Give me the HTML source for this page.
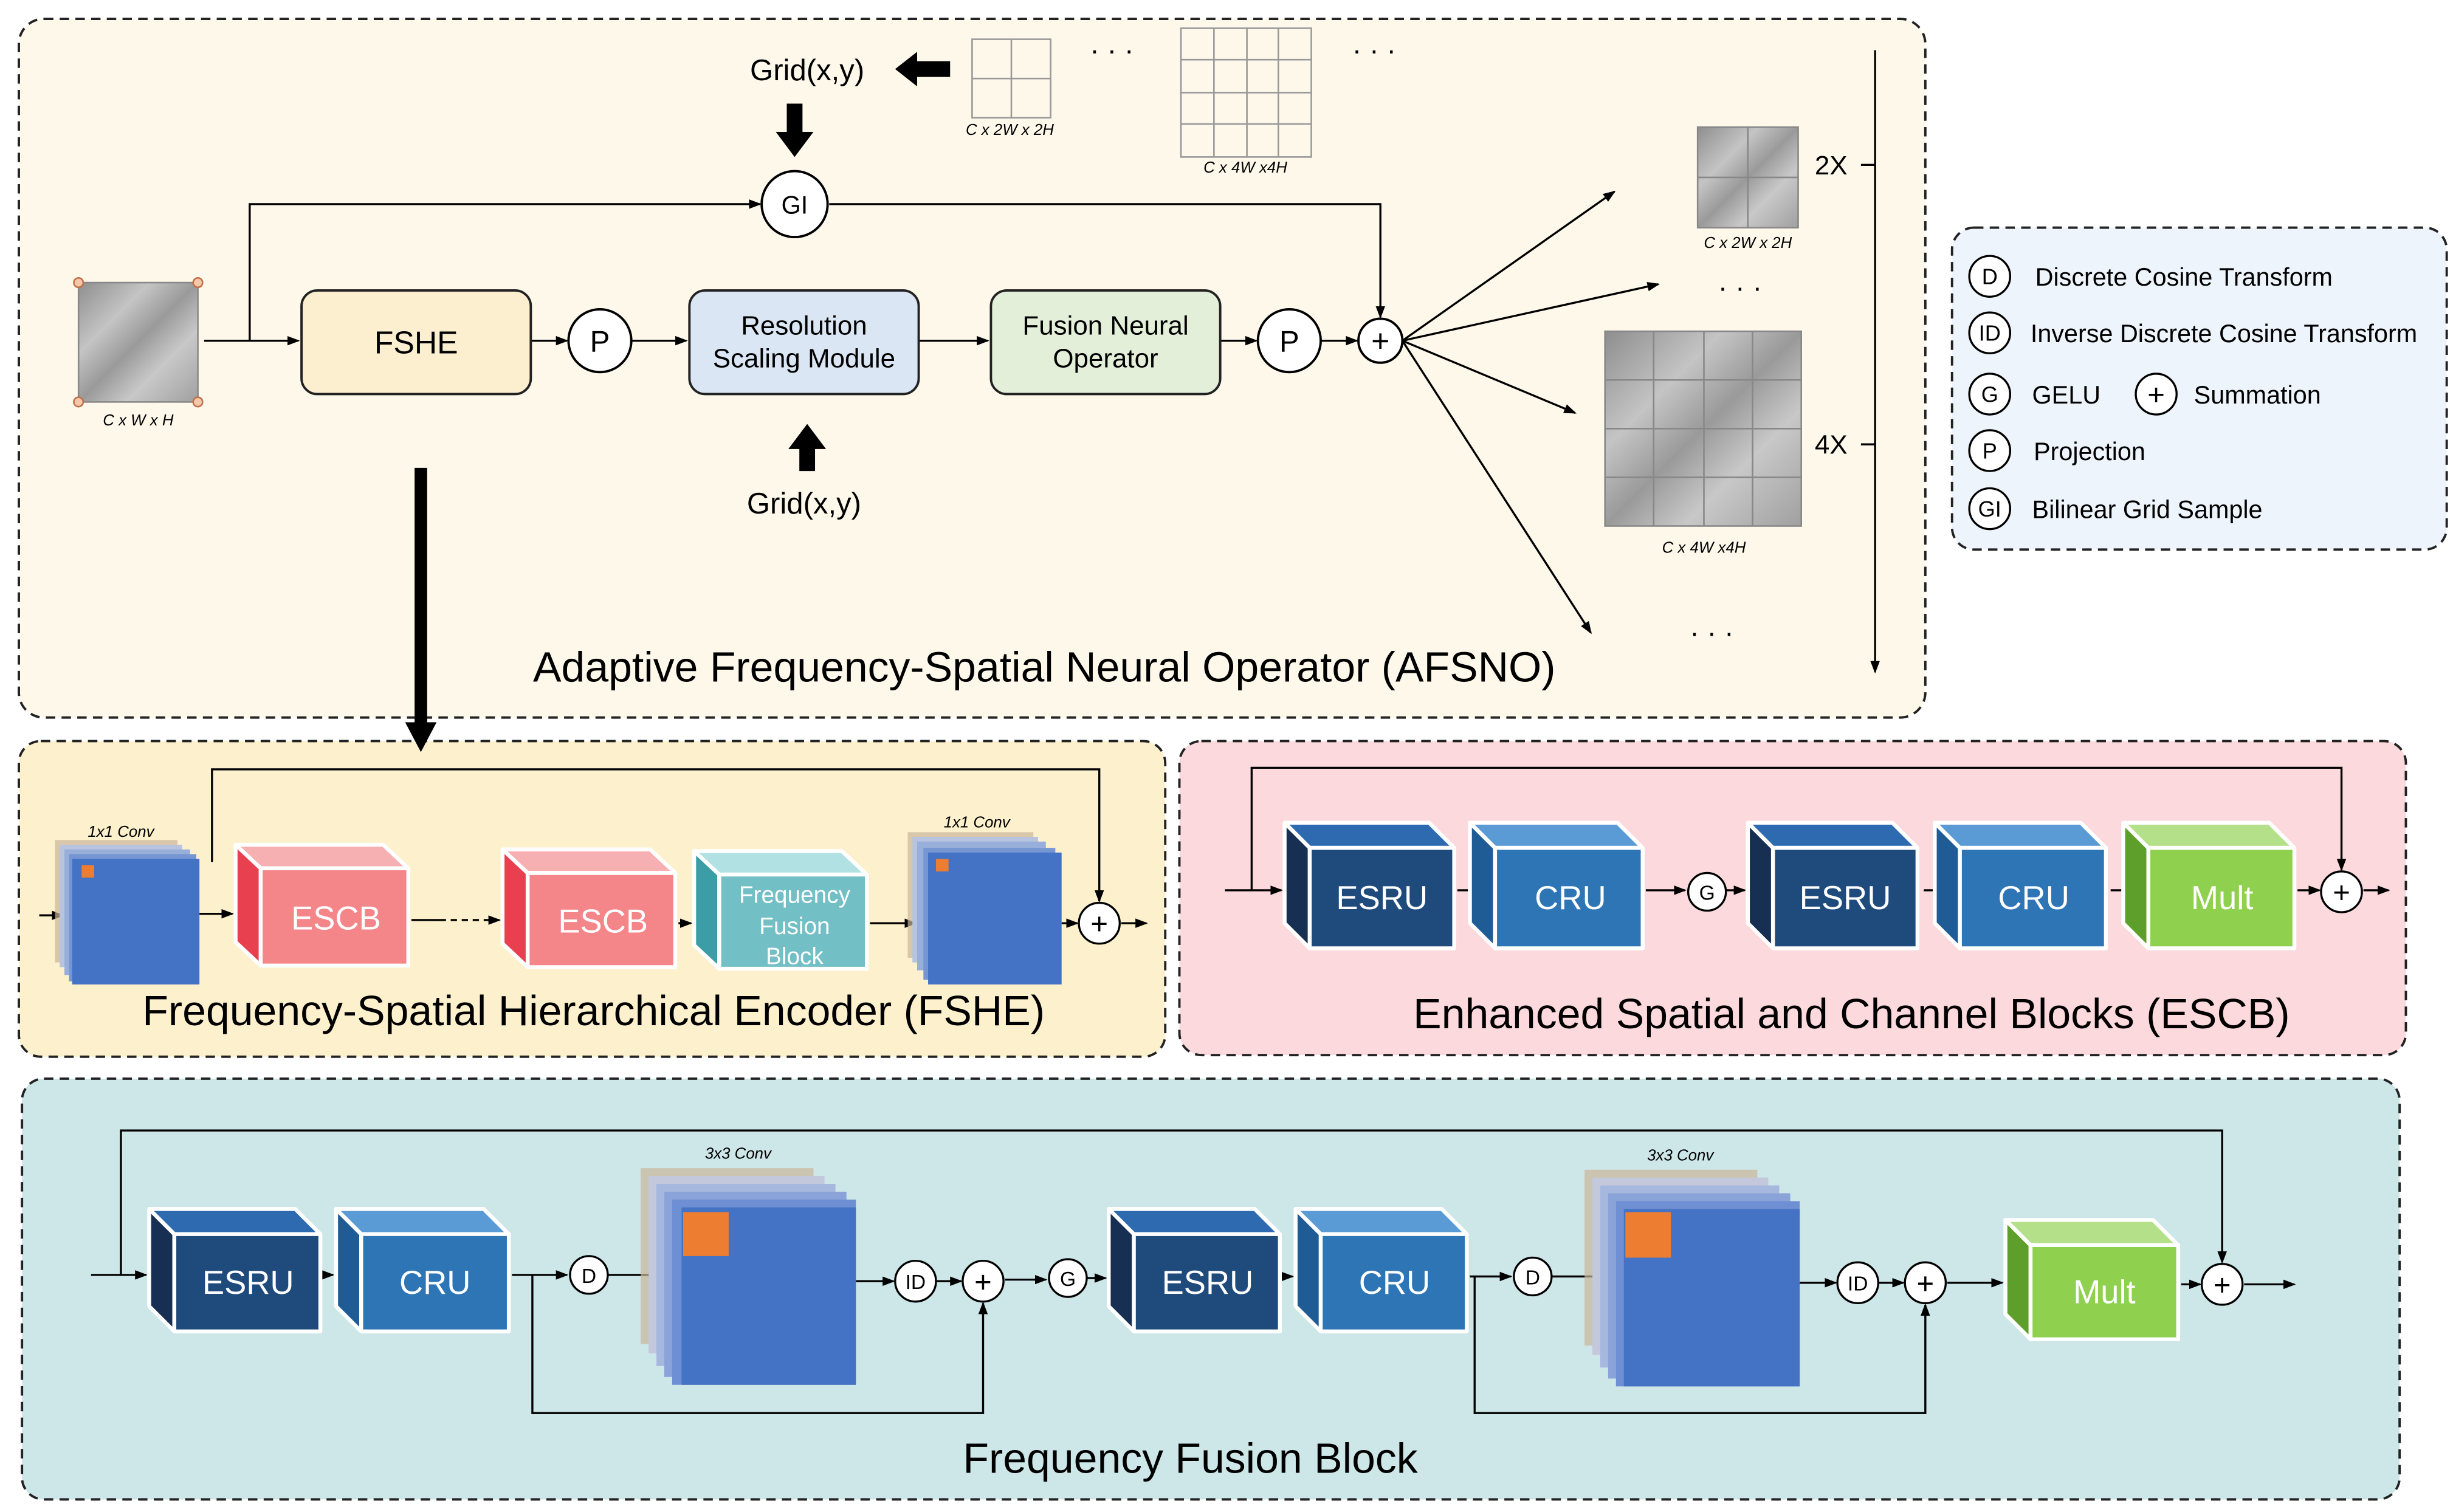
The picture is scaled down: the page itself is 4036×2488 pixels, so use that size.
<!DOCTYPE html>
<html><head><meta charset="utf-8"><style>
html,body{margin:0;padding:0;background:#fff}
svg{display:block}
text{font-family:"Liberation Sans",sans-serif}
</style></head><body>
<svg width="4036" height="2488" viewBox="0 0 1562 963" preserveAspectRatio="none" xmlns="http://www.w3.org/2000/svg">
<defs>
<marker id="a" markerWidth="8" markerHeight="8" refX="7" refY="4" orient="auto" markerUnits="userSpaceOnUse"><path d="M0,1 L8,4 L0,7 z" fill="#000"/></marker>
<linearGradient id="tex" x1="0" y1="0" x2="1" y2="1">
<stop offset="0" stop-color="#8e8e8e"/><stop offset="0.3" stop-color="#c4c4c4"/><stop offset="0.5" stop-color="#9a9a9a"/><stop offset="0.7" stop-color="#c8c8c8"/><stop offset="1" stop-color="#a0a0a0"/>
</linearGradient>
</defs>

<rect x="12" y="12" width="1214" height="445" rx="16" fill="#fdf8ea" stroke="#222" stroke-width="1.5" stroke-dasharray="6,4"/>
<rect x="1243" y="145" width="315" height="205" rx="14" fill="#eef4fb" stroke="#222" stroke-width="1.5" stroke-dasharray="6,4"/>
<rect x="12" y="472" width="730" height="201" rx="14" fill="#fdf0cc" stroke="#222" stroke-width="1.5" stroke-dasharray="6,4"/>
<rect x="751" y="472" width="781" height="200" rx="14" fill="#fcd9dc" stroke="#222" stroke-width="1.5" stroke-dasharray="6,4"/>
<rect x="14" y="687" width="1514" height="268" rx="14" fill="#cde6e8" stroke="#222" stroke-width="1.5" stroke-dasharray="6,4"/>

<rect x="50" y="180" width="76" height="76" fill="url(#tex)" stroke="#888"/>
<g fill="#f4c8a8" stroke="#c0704a" stroke-width="1"><circle cx="50" cy="180" r="3"/><circle cx="126" cy="180" r="3"/><circle cx="50" cy="256" r="3"/><circle cx="126" cy="256" r="3"/></g>
<text x="88" y="271" font-size="10" font-style="italic" text-anchor="middle">C x W x H</text>

<g stroke="#000" stroke-width="1.3" fill="none">
<line x1="130" y1="217" x2="190" y2="217" marker-end="url(#a)"/>
<polyline points="159,217 159,130 484,130" marker-end="url(#a)"/>
<polyline points="528,130 879,130 879,202" marker-end="url(#a)"/>
<line x1="338" y1="217" x2="361" y2="217" marker-end="url(#a)"/>
<line x1="402" y1="217" x2="437" y2="217" marker-end="url(#a)"/>
<line x1="585" y1="217" x2="629" y2="217" marker-end="url(#a)"/>
<line x1="777" y1="217" x2="800" y2="217" marker-end="url(#a)"/>
<line x1="841" y1="217" x2="864" y2="217" marker-end="url(#a)"/>
<line x1="893" y1="217" x2="1028" y2="122" marker-end="url(#a)"/>
<line x1="893" y1="217" x2="1056" y2="181" marker-end="url(#a)"/>
<line x1="893" y1="217" x2="1003" y2="263" marker-end="url(#a)"/>
<line x1="893" y1="217" x2="1013" y2="403" marker-end="url(#a)"/>
<line x1="1194" y1="32" x2="1194" y2="428" marker-end="url(#a)"/>
<line x1="1185" y1="105" x2="1194" y2="105"/>
<line x1="1185" y1="283" x2="1194" y2="283"/>
</g>
<rect x="192" y="185" width="146" height="66" rx="10" fill="#fcefd0" stroke="#222" stroke-width="1.5"/>
<text x="265" y="225" font-size="20" text-anchor="middle">FSHE</text>
<rect x="439" y="185" width="146" height="66" rx="10" fill="#dae6f3" stroke="#222" stroke-width="1.5"/>
<text x="512" y="213" font-size="17" text-anchor="middle">Resolution</text>
<text x="512" y="234" font-size="17" text-anchor="middle">Scaling Module</text>
<rect x="631" y="185" width="146" height="66" rx="10" fill="#e3efd9" stroke="#222" stroke-width="1.5"/>
<text x="704" y="213" font-size="17" text-anchor="middle">Fusion Neural</text>
<text x="704" y="234" font-size="17" text-anchor="middle">Operator</text>
<g fill="#fff" stroke="#000" stroke-width="1.5">
<circle cx="382" cy="217" r="20"/><circle cx="821" cy="217" r="20"/><circle cx="506" cy="130" r="21"/><circle cx="879" cy="217" r="14"/>
</g>
<text x="382" y="224" font-size="19" text-anchor="middle">P</text>
<text x="821" y="224" font-size="19" text-anchor="middle">P</text>
<text x="506" y="136" font-size="16" text-anchor="middle">GI</text>
<text x="879" y="224" font-size="20" text-anchor="middle">+</text>

<text x="514" y="51" font-size="19" text-anchor="middle">Grid(x,y)</text>
<path d="M570,44 L584,33 L584,39 L605,39 L605,49 L584,49 L584,55 z" fill="#000"/>
<path d="M501,66 L511,66 L511,84 L518,84 L506,100 L494,84 L501,84 z" fill="#000"/>
<path d="M514,270 L526,286 L519,286 L519,300 L509,300 L509,286 L502,286 z" fill="#000"/>
<text x="512" y="327" font-size="19" text-anchor="middle">Grid(x,y)</text>
<path d="M264,298 L272,298 L272,460 L278,460 L268,479 L258,460 L264,460 z" fill="#000"/>

<g stroke="#999" stroke-width="1" fill="none">
<rect x="619" y="25" width="50" height="50"/><line x1="644" y1="25" x2="644" y2="75"/><line x1="619" y1="50" x2="669" y2="50"/>
<rect x="752" y="18" width="83" height="82"/>
<line x1="773" y1="18" x2="773" y2="100"/><line x1="794" y1="18" x2="794" y2="100"/><line x1="814" y1="18" x2="814" y2="100"/>
<line x1="752" y1="38" x2="835" y2="38"/><line x1="752" y1="59" x2="835" y2="59"/><line x1="752" y1="79" x2="835" y2="79"/>
</g>
<text x="643" y="86" font-size="10" font-style="italic" text-anchor="middle">C x 2W x 2H</text>
<text x="793" y="110" font-size="10" font-style="italic" text-anchor="middle">C x 4W x4H</text>
<text x="708" y="38" font-size="18" text-anchor="middle">· · ·</text>
<text x="875" y="38" font-size="18" text-anchor="middle">· · ·</text>

<rect x="1081" y="81" width="64" height="64" fill="url(#tex)" stroke="#888"/>
<g stroke="#888" fill="none"><line x1="1113" y1="81" x2="1113" y2="145"/><line x1="1081" y1="113" x2="1145" y2="113"/></g>
<text x="1113" y="158" font-size="10" font-style="italic" text-anchor="middle">C x 2W x 2H</text>
<text x="1108" y="189" font-size="18" text-anchor="middle">· · ·</text>
<rect x="1022" y="211" width="125" height="124" fill="url(#tex)" stroke="#888"/>
<g stroke="#888" fill="none"><line x1="1053" y1="211" x2="1053" y2="335"/><line x1="1085" y1="211" x2="1085" y2="335"/><line x1="1116" y1="211" x2="1116" y2="335"/><line x1="1022" y1="242" x2="1147" y2="242"/><line x1="1022" y1="273" x2="1147" y2="273"/><line x1="1022" y1="304" x2="1147" y2="304"/></g>
<text x="1085" y="352" font-size="10" font-style="italic" text-anchor="middle">C x 4W x4H</text>
<text x="1090" y="409" font-size="18" text-anchor="middle">· · ·</text>
<text x="1166" y="111" font-size="17" text-anchor="middle">2X</text>
<text x="1166" y="289" font-size="17" text-anchor="middle">4X</text>
<text x="665" y="434" font-size="27" text-anchor="middle">Adaptive Frequency-Spatial Neural Operator (AFSNO)</text>

<g fill="#fff" stroke="#000" stroke-width="1.3">
<circle cx="1267" cy="176" r="13"/><circle cx="1267" cy="212" r="13"/><circle cx="1267" cy="251" r="13"/><circle cx="1373" cy="251" r="13"/><circle cx="1267" cy="287" r="13"/><circle cx="1267" cy="324" r="13"/>
</g>
<g font-size="14" text-anchor="middle">
<text x="1267" y="181">D</text><text x="1267" y="217">ID</text><text x="1267" y="256">G</text><text x="1373" y="258" font-size="19">+</text><text x="1267" y="292">P</text><text x="1267" y="329">GI</text>
</g>
<g font-size="16">
<text x="1296" y="182">Discrete Cosine Transform</text>
<text x="1293" y="218">Inverse Discrete Cosine Transform</text>
<text x="1294" y="257">GELU</text>
<text x="1397" y="257">Summation</text>
<text x="1295" y="293">Projection</text>
<text x="1294" y="330">Bilinear Grid Sample</text>
</g>

<g stroke="#000" stroke-width="1.3" fill="none">
<polyline points="135,549 135,490 700,490 700,574" marker-end="url(#a)"/>
<line x1="25" y1="583" x2="40" y2="583" marker-end="url(#a)"/>
<line x1="127" y1="582" x2="148" y2="582" marker-end="url(#a)"/>
<line x1="262" y1="586" x2="280" y2="586"/>
<line x1="280" y1="586" x2="318" y2="586" stroke-dasharray="4,3" marker-end="url(#a)"/>
<line x1="432" y1="588" x2="440" y2="588" marker-end="url(#a)"/>
<line x1="554" y1="588" x2="583" y2="588" marker-end="url(#a)"/>
<line x1="676" y1="588" x2="686" y2="588" marker-end="url(#a)"/>
<line x1="714" y1="588" x2="730" y2="588" marker-end="url(#a)"/>
</g>
<g stroke="none">
<rect x="35" y="535" width="78" height="78" fill="#c9b59a" opacity=".7"/>
<rect x="38" y="538" width="78" height="78" fill="#b7c3df"/>
<rect x="41" y="541" width="80" height="80" fill="#98afd9"/>
<rect x="44" y="544" width="81" height="81" fill="#7596d2"/>
<rect x="46" y="547" width="81" height="80" fill="#4472c4"/>
<rect x="52" y="551" width="8" height="8" fill="#ed7d31"/>
</g>
<text x="77" y="533" font-size="10" font-style="italic" text-anchor="middle">1x1 Conv</text>
<g stroke="none">
<rect x="578" y="530" width="80" height="80" fill="#c9b59a" opacity=".7"/>
<rect x="581" y="533" width="80" height="80" fill="#b7c3df"/>
<rect x="584" y="536" width="82" height="82" fill="#98afd9"/>
<rect x="588" y="540" width="84" height="84" fill="#7596d2"/>
<rect x="591" y="543" width="85" height="84" fill="#4472c4"/>
<rect x="596" y="547" width="8" height="8" fill="#ed7d31"/>
</g>
<text x="622" y="527" font-size="10" font-style="italic" text-anchor="middle">1x1 Conv</text>
<circle cx="700" cy="588" r="13" fill="#fff" stroke="#000" stroke-width="1.3"/>
<text x="700" y="595" font-size="19" text-anchor="middle">+</text>

<g stroke="#fff" stroke-width="2.5" stroke-linejoin="round">
<polygon points="150,538 166,553 166,615 150,600" fill="#e8404f"/>
<polygon points="150,538 244,538 260,553 166,553" fill="#f7b0b2"/>
<rect x="166" y="553" width="94" height="62" fill="#f4868a"/>
<polygon points="320,541 336,556 336,616 320,601" fill="#e8404f"/>
<polygon points="320,541 414,541 430,556 336,556" fill="#f7b0b2"/>
<rect x="336" y="556" width="94" height="60" fill="#f4868a"/>
<polygon points="442,542 458,557 458,617 442,602" fill="#3b9ea6"/>
<polygon points="442,542 536,542 552,557 458,557" fill="#b2e1e4"/>
<rect x="458" y="557" width="94" height="60" fill="#72bfc5"/>
</g>
<g fill="#fff" text-anchor="middle">
<text x="214" y="592" font-size="21">ESCB</text>
<text x="384" y="594" font-size="21">ESCB</text>
<text x="506" y="575" font-size="15">Frequency</text>
<text x="506" y="595" font-size="15">Fusion</text>
<text x="506" y="614" font-size="15">Block</text>
</g>
<text x="378" y="653" font-size="27" text-anchor="middle">Frequency-Spatial Hierarchical Encoder (FSHE)</text>

<g stroke="#000" stroke-width="1.3" fill="none">
<line x1="780" y1="567" x2="816" y2="567" marker-end="url(#a)"/>
<polyline points="797,567 797,489 1491,489 1491,554" marker-end="url(#a)"/>
<line x1="928" y1="567" x2="950" y2="567" marker-end="url(#a)"/>
<line x1="1048" y1="567" x2="1073" y2="567" marker-end="url(#a)"/>
<line x1="1099" y1="567" x2="1111" y2="567" marker-end="url(#a)"/>
<line x1="1225" y1="567" x2="1248" y2="567" marker-end="url(#a)"/>
<line x1="1344" y1="567" x2="1368" y2="567" marker-end="url(#a)"/>
<line x1="1463" y1="567" x2="1477" y2="567" marker-end="url(#a)"/>
<line x1="1505" y1="567" x2="1521" y2="567" marker-end="url(#a)"/>
</g>
<g stroke="#fff" stroke-width="2.5" stroke-linejoin="round">
<polygon points="818,524 834,540 834,604 818,588" fill="#162f52"/>
<polygon points="818,524 910,524 926,540 834,540" fill="#2e6ab0"/>
<rect x="834" y="540" width="92" height="64" fill="#1f4a7c"/>
<polygon points="936,524 952,540 952,604 936,588" fill="#1f5b94"/>
<polygon points="936,524 1030,524 1046,540 952,540" fill="#5b9bd5"/>
<rect x="952" y="540" width="94" height="64" fill="#2e75b6"/>
<polygon points="1113,524 1129,540 1129,604 1113,588" fill="#162f52"/>
<polygon points="1113,524 1205,524 1221,540 1129,540" fill="#2e6ab0"/>
<rect x="1129" y="540" width="92" height="64" fill="#1f4a7c"/>
<polygon points="1232,524 1248,540 1248,604 1232,588" fill="#1f5b94"/>
<polygon points="1232,524 1325,524 1341,540 1248,540" fill="#5b9bd5"/>
<rect x="1248" y="540" width="93" height="64" fill="#2e75b6"/>
<polygon points="1352,524 1368,540 1368,604 1352,588" fill="#5e9e2a"/>
<polygon points="1352,524 1445,524 1461,540 1368,540" fill="#b4e08a"/>
<rect x="1368" y="540" width="93" height="64" fill="#8fd14f"/>
</g>
<g fill="#fff" font-size="21" text-anchor="middle">
<text x="880" y="579">ESRU</text><text x="1000" y="579">CRU</text><text x="1175" y="579">ESRU</text><text x="1295" y="579">CRU</text><text x="1415" y="579">Mult</text>
</g>
<g fill="#fff" stroke="#000" stroke-width="1.3"><circle cx="1087" cy="568" r="12"/><circle cx="1491" cy="568" r="13"/></g>
<text x="1087" y="573" font-size="13" text-anchor="middle">G</text>
<text x="1491" y="575" font-size="19" text-anchor="middle">+</text>
<text x="1179" y="655" font-size="27" text-anchor="middle">Enhanced Spatial and Channel Blocks (ESCB)</text>

<g stroke="#000" stroke-width="1.3" fill="none">
<line x1="58" y1="812" x2="93" y2="812" marker-end="url(#a)"/>
<polyline points="77,812 77,720 1415,720 1415,804" marker-end="url(#a)"/>
<line x1="206" y1="812" x2="212" y2="812" marker-end="url(#a)"/>
<line x1="326" y1="812" x2="361" y2="812" marker-end="url(#a)"/>
<polyline points="339,812 339,900 626,900 626,830" marker-end="url(#a)"/>
<line x1="387" y1="812" x2="420" y2="812" marker-end="url(#a)"/>
<line x1="545" y1="816" x2="569" y2="816" marker-end="url(#a)"/>
<line x1="596" y1="816" x2="612" y2="816" marker-end="url(#a)"/>
<line x1="640" y1="815" x2="666" y2="815" marker-end="url(#a)"/>
<line x1="692" y1="814" x2="704" y2="814" marker-end="url(#a)"/>
<line x1="817" y1="813" x2="823" y2="813" marker-end="url(#a)"/>
<line x1="936" y1="813" x2="962" y2="813" marker-end="url(#a)"/>
<polyline points="939,813 939,900 1226,900 1226,831" marker-end="url(#a)"/>
<line x1="988" y1="813" x2="1021" y2="813" marker-end="url(#a)"/>
<line x1="1146" y1="817" x2="1169" y2="817" marker-end="url(#a)"/>
<line x1="1196" y1="817" x2="1212" y2="817" marker-end="url(#a)"/>
<line x1="1240" y1="817" x2="1275" y2="817" marker-end="url(#a)"/>
<line x1="1389" y1="818" x2="1401" y2="818" marker-end="url(#a)"/>
<line x1="1429" y1="818" x2="1461" y2="818" marker-end="url(#a)"/>
</g>
<g stroke="#fff" stroke-width="2.5" stroke-linejoin="round">
<polygon points="95,770 111,786 111,848 95,832" fill="#162f52"/>
<polygon points="95,770 188,770 204,786 111,786" fill="#2e6ab0"/>
<rect x="111" y="786" width="93" height="62" fill="#1f4a7c"/>
<polygon points="214,770 230,786 230,848 214,832" fill="#1f5b94"/>
<polygon points="214,770 308,770 324,786 230,786" fill="#5b9bd5"/>
<rect x="230" y="786" width="94" height="62" fill="#2e75b6"/>
<polygon points="706,770 722,786 722,848 706,832" fill="#162f52"/>
<polygon points="706,770 799,770 815,786 722,786" fill="#2e6ab0"/>
<rect x="722" y="786" width="93" height="62" fill="#1f4a7c"/>
<polygon points="825,770 841,786 841,848 825,832" fill="#1f5b94"/>
<polygon points="825,770 918,770 934,786 841,786" fill="#5b9bd5"/>
<rect x="841" y="786" width="93" height="62" fill="#2e75b6"/>
<polygon points="1277,777 1293,793 1293,853 1277,837" fill="#5e9e2a"/>
<polygon points="1277,777 1371,777 1387,793 1293,793" fill="#b4e08a"/>
<rect x="1293" y="793" width="94" height="60" fill="#8fd14f"/>
</g>
<g fill="#fff" font-size="21" text-anchor="middle">
<text x="158" y="824">ESRU</text><text x="277" y="824">CRU</text><text x="769" y="824">ESRU</text><text x="888" y="824">CRU</text><text x="1340" y="830">Mult</text>
</g>
<g stroke="none">
<rect x="408" y="744" width="110" height="112" fill="#c9b59a" opacity=".7"/>
<rect x="413" y="749" width="112" height="113" fill="#c3c8dd"/>
<rect x="418" y="754" width="114" height="116" fill="#a7b8de"/>
<rect x="423" y="759" width="116" height="118" fill="#8aa4d9"/>
<rect x="428" y="764" width="117" height="118" fill="#6e8fd3"/>
<rect x="434" y="769" width="111" height="113" fill="#4472c4"/>
<rect x="435" y="772" width="29" height="28" fill="#ed7d31"/>
<rect x="1009" y="745" width="110" height="112" fill="#c9b59a" opacity=".7"/>
<rect x="1014" y="750" width="112" height="113" fill="#c3c8dd"/>
<rect x="1019" y="755" width="114" height="116" fill="#a7b8de"/>
<rect x="1024" y="760" width="116" height="118" fill="#8aa4d9"/>
<rect x="1029" y="765" width="117" height="118" fill="#6e8fd3"/>
<rect x="1034" y="770" width="112" height="113" fill="#4472c4"/>
<rect x="1035" y="772" width="29" height="29" fill="#ed7d31"/>
</g>
<text x="470" y="738" font-size="10" font-style="italic" text-anchor="middle">3x3 Conv</text>
<text x="1070" y="739" font-size="10" font-style="italic" text-anchor="middle">3x3 Conv</text>
<g fill="#fff" stroke="#000" stroke-width="1.3">
<circle cx="375" cy="812" r="12"/><circle cx="583" cy="816" r="13"/><circle cx="626" cy="816" r="13"/><circle cx="680" cy="814" r="12"/>
<circle cx="976" cy="813" r="12"/><circle cx="1183" cy="817" r="13"/><circle cx="1226" cy="817" r="13"/><circle cx="1415" cy="818" r="13"/>
</g>
<g font-size="13" text-anchor="middle">
<text x="375" y="817">D</text><text x="583" y="821">ID</text><text x="680" y="819">G</text><text x="976" y="818">D</text><text x="1183" y="822">ID</text>
</g>
<g font-size="19" text-anchor="middle">
<text x="626" y="823">+</text><text x="1226" y="824">+</text><text x="1415" y="825">+</text>
</g>
<text x="758" y="938" font-size="27" text-anchor="middle">Frequency Fusion Block</text>
</svg>
</body></html>
